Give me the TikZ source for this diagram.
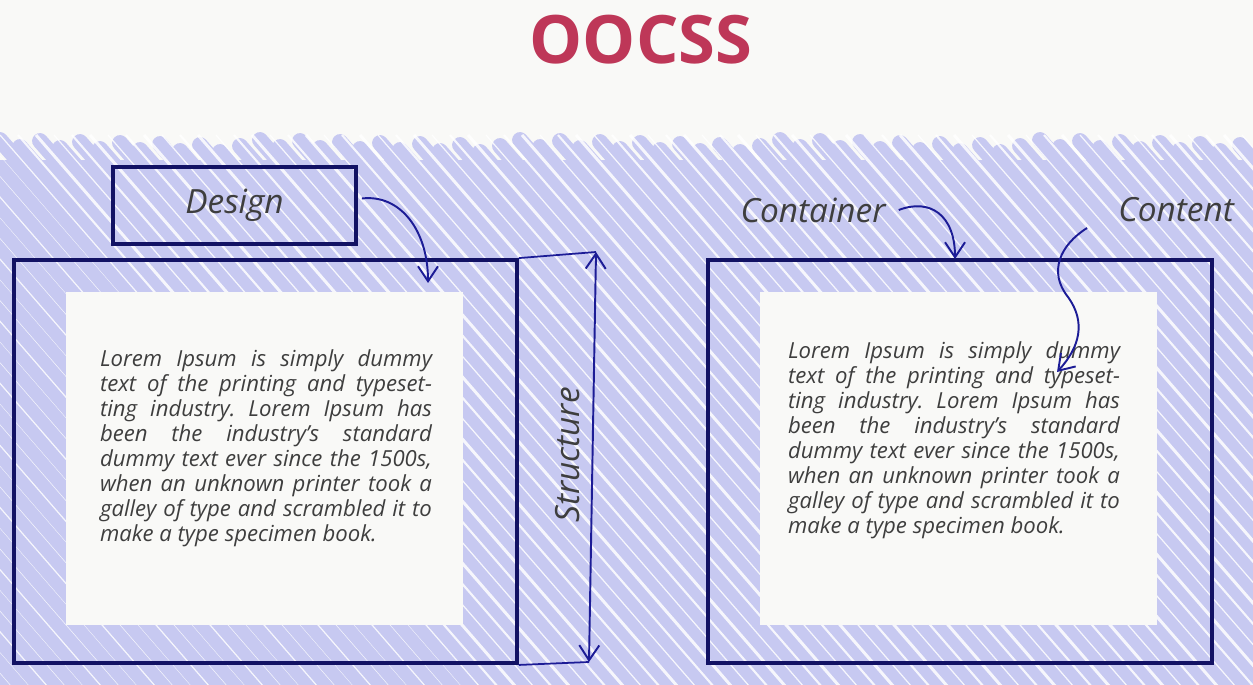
\documentclass[tikz,border=0pt]{standalone}
\usepackage{fontspec}
\setmainfont{Open Sans}
\usetikzlibrary{arrows.meta,fit}
\setlength{\parindent}{0pt}
\hyphenpenalty=10000
\frenchspacing
\definecolor{paper}{RGB}{249,249,247}
\definecolor{lilac}{RGB}{199,201,241}
\definecolor{navy}{RGB}{18,18,100}
\definecolor{inkblue}{RGB}{28,28,150}
\definecolor{berry}{RGB}{190,55,88}
\definecolor{ink}{RGB}{62,62,62}
\newcommand{\loremtext}{Lorem Ipsum is simply dummy\linebreak
text of the printing and typeset-\linebreak
ting industry. Lorem Ipsum has\linebreak
been the industry’s standard\linebreak
dummy text ever since the 1500s,\linebreak
when an unknown printer took a\linebreak
galley of type and scrambled it to\linebreak
make a type specimen book.}
\tikzset{
  frame/.style={draw=navy, line width=2.2pt, inner sep=0pt},
  sheet/.style={fill=paper, inner sep=0pt},
  handtext/.style={text=ink, font=\itshape\fontsize{19}{22}\selectfont},
  lorem/.style={text=ink, text width=6.64cm, align=justify,
    font=\itshape\fontsize{12.6}{14.2}\selectfont},
  arr/.style={draw=inkblue, line width=1.1pt, -{Straight Barb[length=3mm,width=4mm]}}
}
\begin{document}
\begin{tikzpicture}[x=0.02cm, y=-0.02cm]
\useasboundingbox (0,0) rectangle (1253,685);
\fill[paper] (0,0) rectangle (1253,685);
% hatched band
\fill[lilac] (0,160) rectangle (1253,685);
\foreach \i in {0,...,62}{
  \pgfmathsetmacro\h{140+mod(\i*7,13)}
  \draw[lilac, line width=9pt, line cap=round] (\i*20,\h) -- ++(22,25);
}
\begin{scope}
\clip (0,135) rectangle (1253,685);
\foreach \i in {-40,...,70}{
  \pgfmathsetmacro\w{0.7+0.5*mod(\i,3)}
  \draw[white, opacity=.85, line width=\w pt] (\i*18,135) -- ++(600,690);
}
\end{scope}
% title
\node[font=\bfseries\fontsize{38}{40}\selectfont, text=berry] (title) at (641,40) {OOCSS};
% left block
\node[sheet, fit={(66,292) (463,625)}] (leftsheet) {};
\node[frame, fit={(14,260) (517,663)}] (leftbox) {};
\node[lorem] (lefttext) at (266,448) {\loremtext};
\node[frame, handtext, minimum width=4.86cm, minimum height=1.54cm] (design) at (234.5,205.5) {Design};
\coordinate (designtip) at (428,283);
\draw[arr] ([shift={(4,-7)}]design.east) .. controls (400,194) and (428,230) .. (designtip);
% structure
\coordinate (stop) at (596,252);
\coordinate (sbot) at (589,662);
\draw[inkblue, line width=1pt] (leftbox.north east) -- (stop);
\draw[inkblue, line width=1pt] (leftbox.south east) -- (sbot);
\draw[inkblue, line width=1.1pt, {Straight Barb[length=3mm,width=4mm]}-{Straight Barb[length=3mm,width=4mm]}] (stop) -- (sbot);
\node[handtext, rotate=90] (structure) at (568,455) {Structure};
% right block
\node[sheet, fit={(760,292) (1157,625)}] (rightsheet) {};
\node[frame, fit={(708,260) (1212,663)}] (rightbox) {};
\node[lorem] (righttext) at (954,440) {\loremtext};
\node[handtext] (container) at (813,210) {Container};
\node[handtext] (content) at (1176,210) {Content};
\coordinate (containertip) at (955,259);
\coordinate (contenttip) at (1057,372);
\draw[arr] ([xshift=4]container.east) .. controls (930,198) and (955,215) .. (containertip);
\draw[arr] ([shift={(-25,18)}]content.west) .. controls (1060,245) and (1048,272) .. (1068,297)
  .. controls (1086,322) and (1080,347) .. (contenttip);
\end{tikzpicture}
\end{document}
